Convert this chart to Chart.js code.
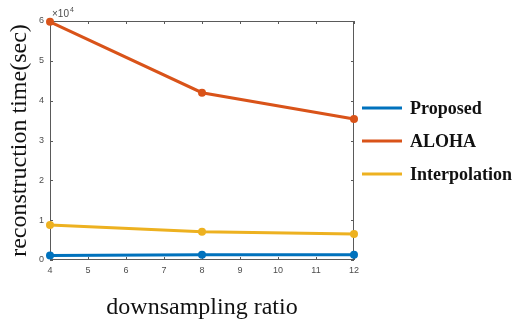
<!DOCTYPE html>
<html lang="en">
<head>
    <meta charset="UTF-8">
    <title>Reconstruction time</title>
    <script src="https://cdn.jsdelivr.net/npm/chart.js"></script>
    <style>
        body {
            margin: 0;
            background: white;
        }
        .wrap {
            width: 516px;
            height: 325px;
        }
    </style>
</head>
<body>
    <div class="wrap"><canvas id="timeChart" width="516" height="325"></canvas></div>
    <script>
        const ratios = [4, 8, 12];
        const proposed = [1100, 1300, 1300];
        const aloha = [59800, 42000, 35400];
        const interpolation = [8800, 7100, 6500];
        const xTicks = [4, 5, 6, 7, 8, 9, 10, 11, 12];
        const yTicks = [0, 1, 2, 3, 4, 5, 6];

        const toPoints = vals => vals.map((v, i) => ({ x: ratios[i], y: v }));

        // box, inward ticks, x10^4 and the side legend
        const matlabLook = {
            id: 'matlabLook',
            beforeDatasetsDraw(chart) {
                const ctx = chart.ctx;
                const a = chart.chartArea;
                const xs = chart.scales.x, ys = chart.scales.y;
                ctx.save();
                ctx.strokeStyle = '#5a5a5a';
                ctx.lineWidth = 1;
                ctx.strokeRect(a.left + 0.5, a.top + 0.5, a.right - a.left - 1, a.bottom - a.top - 1);
                ctx.beginPath();
                xs.ticks.forEach(t => {
                    const px = Math.round(xs.getPixelForValue(t.value)) + 0.5;
                    ctx.moveTo(px, a.bottom); ctx.lineTo(px, a.bottom - 3);
                    ctx.moveTo(px, a.top); ctx.lineTo(px, a.top + 3);
                });
                ys.ticks.forEach(t => {
                    const py = Math.round(ys.getPixelForValue(t.value)) + 0.5;
                    ctx.moveTo(a.left, py); ctx.lineTo(a.left + 3, py);
                    ctx.moveTo(a.right, py); ctx.lineTo(a.right - 3, py);
                });
                ctx.stroke();

                ctx.fillStyle = '#4d4d4d';
                ctx.font = '10px "Liberation Sans", Arial, sans-serif';
                ctx.textBaseline = 'alphabetic';
                ctx.textAlign = 'left';
                ctx.fillText('\u00d710', a.left + 2, a.top - 4);
                ctx.font = '7px "Liberation Sans", Arial, sans-serif';
                ctx.fillText('4', a.left + 20, a.top - 9);

                const rows = [108, 141, 174];
                ctx.font = 'bold 18px "Liberation Serif", serif';
                ctx.textBaseline = 'middle';
                ctx.lineWidth = 3;
                chart.data.datasets.forEach((ds, i) => {
                    ctx.strokeStyle = ds.borderColor;
                    ctx.beginPath();
                    ctx.moveTo(a.right + 8, rows[i]);
                    ctx.lineTo(a.right + 48, rows[i]);
                    ctx.stroke();
                    ctx.fillStyle = '#111';
                    ctx.fillText(ds.label, a.right + 56, rows[i] + 1);
                });
                ctx.restore();
            }
        };

        new Chart(document.getElementById('timeChart'), {
            type: 'line',
            data: {
                datasets: [
                    { label: 'Proposed', data: toPoints(proposed), borderColor: '#0072BD', backgroundColor: '#0072BD' },
                    { label: 'ALOHA', data: toPoints(aloha), borderColor: '#D95319', backgroundColor: '#D95319' },
                    { label: 'Interpolation', data: toPoints(interpolation), borderColor: '#EDB120', backgroundColor: '#EDB120' }
                ]
            },
            options: {
                responsive: false,
                animation: false,
                layout: { padding: { top: 21, right: 162, left: 0, bottom: 0 } },
                datasets: { line: { clip: false } },
                elements: {
                    line: { borderWidth: 3, tension: 0 },
                    point: { radius: 4, borderWidth: 0, hoverRadius: 4 }
                },
                plugins: { legend: { display: false }, tooltip: { enabled: false } },
                scales: {
                    x: {
                        type: 'linear',
                        min: 4, max: 12,
                        afterBuildTicks: s => { s.ticks = xTicks.map(v => ({ value: v })); },
                        afterFit: s => { s.height = 65; },
                        grid: { display: false, drawTicks: false },
                        border: { display: false },
                        ticks: { padding: 5, color: '#4d4d4d', font: { size: 9, family: '"Liberation Sans", Arial, sans-serif' } },
                        title: {
                            display: true,
                            text: 'downsampling ratio',
                            color: '#111',
                            font: { size: 24, family: '"Liberation Serif", serif' },
                            padding: { top: 0, bottom: 3 }
                        }
                    },
                    y: {
                        min: 0, max: 60000,
                        afterBuildTicks: s => { s.ticks = yTicks.map(v => ({ value: v * 10000 })); },
                        afterFit: s => { s.width = 50; },
                        grid: { display: false, drawTicks: false },
                        border: { display: false },
                        ticks: {
                            padding: 6, color: '#4d4d4d',
                            font: { size: 9, family: '"Liberation Sans", Arial, sans-serif' },
                            callback: v => v / 10000
                        },
                        title: {
                            display: true,
                            text: 'reconstruction time(sec)',
                            color: '#111',
                            font: { size: 24, family: '"Liberation Serif", serif' },
                            padding: { top: 5, bottom: 0 }
                        }
                    }
                }
            },
            plugins: [matlabLook]
        });
    </script>
</body>
</html>
